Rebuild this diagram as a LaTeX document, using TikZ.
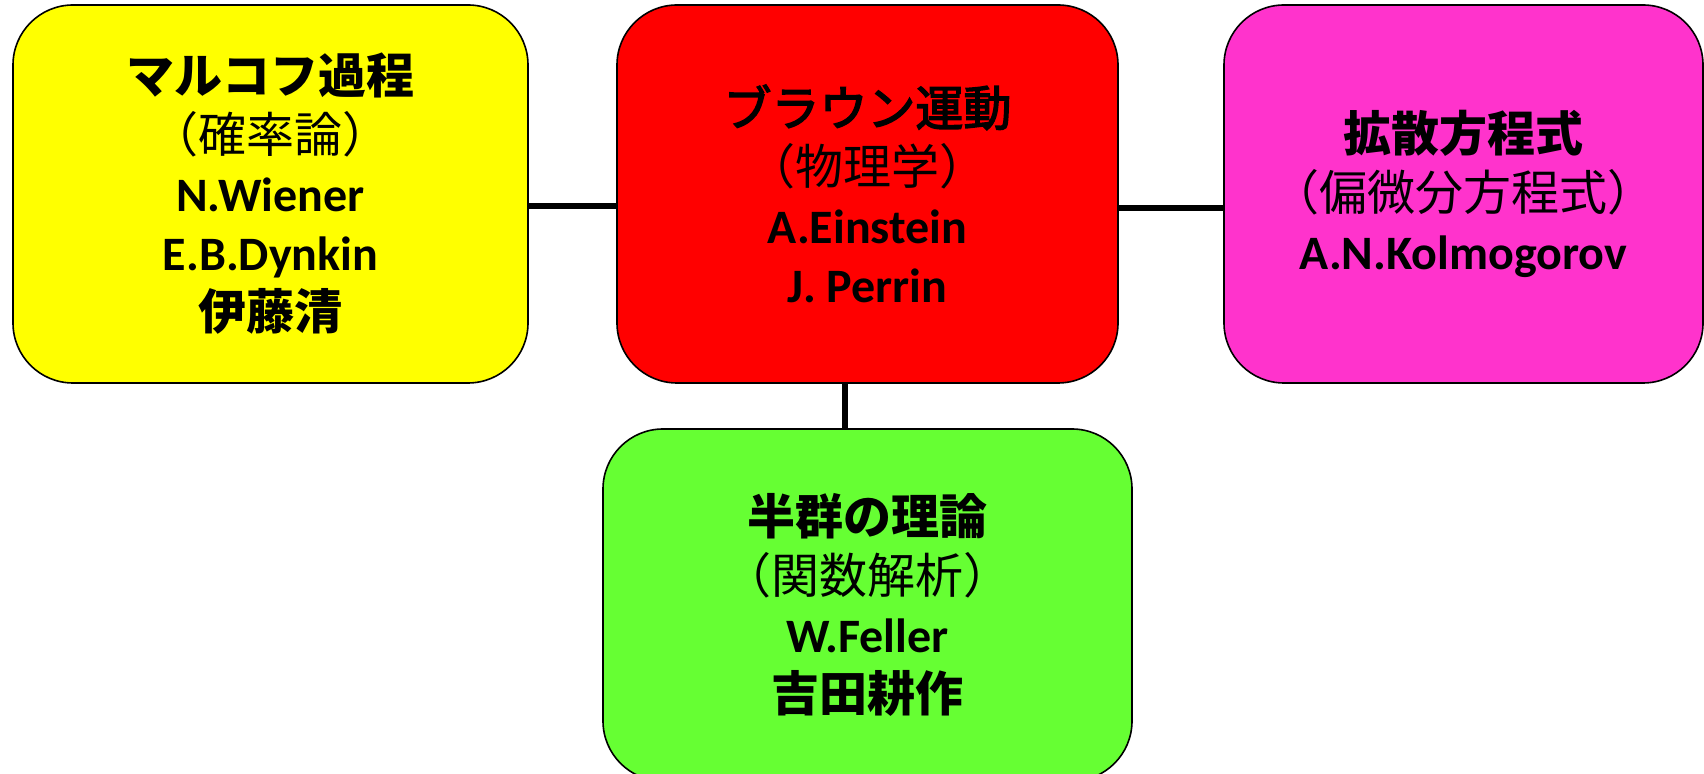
\documentclass[tikz,border=0pt]{standalone}
\usepackage{fontspec}
\setmainfont{Carlito}
\newfontfamily\jp{Noto Sans CJK JP}
\newfontfamily\jpm{Noto Sans CJK JP}[FakeBold=3]
\definecolor{cyellow}{RGB}{255,255,0}
\definecolor{cred}{RGB}{255,0,0}
\definecolor{cmag}{RGB}{255,51,204}
\definecolor{cgreen}{RGB}{102,255,51}
\tikzset{
  box/.style={draw=black, line width=0.8pt, rounded corners=30pt, align=center,
    inner sep=0pt, font=\fontsize{24}{29.5}\selectfont},
  conn/.style={draw=black, line width=2.6pt},
}
\newcommand{\jt}[1]{{\jp\bfseries #1}}
\newcommand{\jr}[1]{{\jp #1}}
\newcommand{\jm}[1]{{\jpm #1}}
\newcommand{\lb}[1]{{\bfseries #1}}
\begin{document}
\begin{tikzpicture}[x=0.5pt,y=-0.5pt]
\useasboundingbox (0,0) rectangle (1704,774);
\node[box, fill=cyellow, minimum width=257.5pt, minimum height=189pt] (yellow) at (270.5,194)
  {\jt{マルコフ過程}\\\jr{（確率論）}\\\lb{N.Wiener}\\\lb{E.B.Dynkin}\\\jt{伊藤清}};
\node[box, fill=cred, minimum width=250.5pt, minimum height=189pt] (red) at (867.5,194)
  {\jm{ブラウン運動}\\\jr{（物理学）}\\\lb{A.Einstein}\\\lb{J. Perrin}};
\node[box, fill=cmag, minimum width=239.5pt, minimum height=189pt] (mag) at (1463.5,194)
  {\jt{拡散方程式}\\\jr{（偏微分方程式）}\\\lb{A.N.Kolmogorov}};
\node[box, fill=cgreen, minimum width=264.5pt, minimum height=176pt] (green) at (867.5,605)
  {\jt{半群の理論}\\\jr{（関数解析）}\\\lb{W.Feller}\\\jt{吉田耕作}};
\coordinate (h1) at (0,206);
\coordinate (h2) at (0,208);
\coordinate (v1) at (845,0);
\draw[conn] (yellow.east |- h1) -- (red.west |- h1);
\draw[conn] (red.east |- h2) -- (mag.west |- h2);
\draw[conn] (red.south -| v1) -- (green.north -| v1);
\end{tikzpicture}
\end{document}
